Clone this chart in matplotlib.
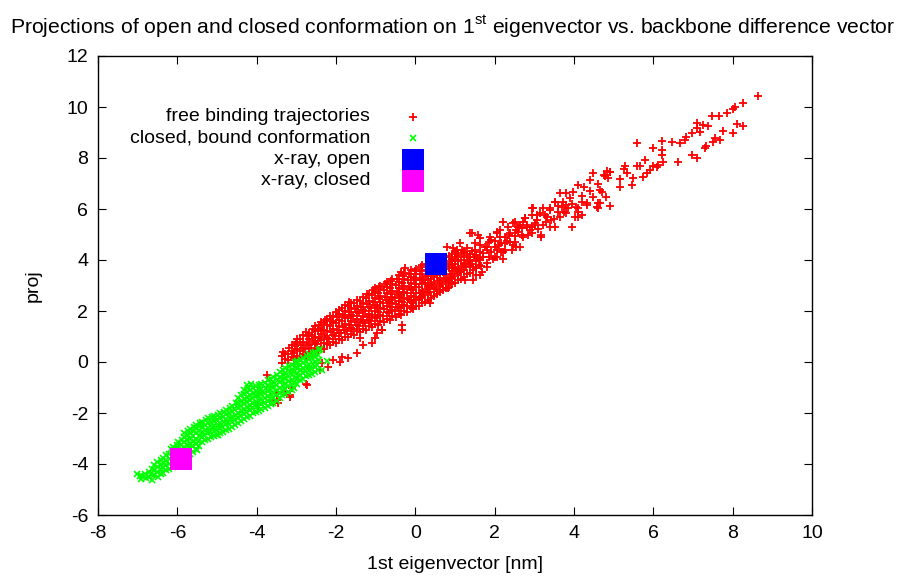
import matplotlib
matplotlib.use("Agg")
import matplotlib.pyplot as plt

plt.rcParams["font.family"] = ["Liberation Sans", "DejaVu Sans"]
plt.rcParams["mathtext.fontset"] = "custom"
plt.rcParams["mathtext.rm"] = "Liberation Sans"
plt.rcParams["axes.unicode_minus"] = False

# free binding trajectories: dense core of the band
red_core = [
    (-3.35, -0.02), (-3.35, 0.22), (-3.33, 0.41),
    (-3.2, 0.06), (-3.22, 0.31), (-3.18, 0.55),
    (-3.05, 0.12), (-3.07, 0.36), (-3.04, 0.61), (-3.02, 0.78),
    (-2.9, 0.16), (-2.92, 0.42), (-2.88, 0.66), (-2.91, 0.92),
    (-2.75, 0.24), (-2.77, 0.51), (-2.74, 0.76), (-2.72, 1.02), (-2.76, 1.19),
    (-2.6, 0.31), (-2.62, 0.56), (-2.58, 0.82), (-2.61, 1.06), (-2.57, 1.31),
    (-2.45, 0.44), (-2.47, 0.71), (-2.43, 0.96), (-2.46, 1.21), (-2.44, 1.47),
    (-2.3, 0.52), (-2.31, 0.76), (-2.28, 1.02), (-2.32, 1.26), (-2.29, 1.51), (-2.27, 1.66),
    (-2.15, 0.66), (-2.17, 0.91), (-2.13, 1.16), (-2.16, 1.42), (-2.12, 1.61), (-2.14, 1.82),
    (-2.0, 0.76), (-2.02, 1.02), (-1.98, 1.26), (-2.01, 1.52), (-1.97, 1.76), (-1.99, 1.96),
    (-1.85, 0.86), (-1.87, 1.12), (-1.83, 1.36), (-1.86, 1.61), (-1.82, 1.86), (-1.84, 2.12),
    (-1.7, 0.97), (-1.72, 1.21), (-1.68, 1.46), (-1.71, 1.72), (-1.67, 1.96), (-1.69, 2.21), (-1.66, 2.36),
    (-1.55, 1.06), (-1.57, 1.31), (-1.53, 1.56), (-1.56, 1.81), (-1.52, 2.06), (-1.54, 2.31),
    (-1.4, 1.16), (-1.42, 1.41), (-1.38, 1.66), (-1.41, 1.91), (-1.37, 2.16), (-1.39, 2.41),
    (-1.25, 1.26), (-1.27, 1.51), (-1.23, 1.76), (-1.26, 2.01), (-1.22, 2.26), (-1.24, 2.51), (-1.21, 2.66),
    (-1.1, 1.36), (-1.12, 1.61), (-1.08, 1.86), (-1.11, 2.11), (-1.07, 2.36), (-1.09, 2.61), (-1.06, 2.81),
    (-0.95, 1.46), (-0.97, 1.71), (-0.93, 1.96), (-0.96, 2.21), (-0.92, 2.46), (-0.94, 2.71), (-0.91, 2.96),
    (-0.8, 1.56), (-0.82, 1.81), (-0.78, 2.06), (-0.81, 2.31), (-0.77, 2.56), (-0.79, 2.81), (-0.76, 3.06),
    (-0.65, 1.66), (-0.67, 1.91), (-0.63, 2.16), (-0.66, 2.41), (-0.62, 2.66), (-0.64, 2.91), (-0.61, 3.16),
    (-0.5, 1.76), (-0.52, 2.01), (-0.48, 2.26), (-0.51, 2.51), (-0.47, 2.76), (-0.49, 3.01), (-0.46, 3.26),
    (-0.35, 1.86), (-0.37, 2.11), (-0.33, 2.36), (-0.36, 2.61), (-0.32, 2.86), (-0.34, 3.11), (-0.31, 3.36), (-0.36, 3.52),
    (-0.2, 1.96), (-0.22, 2.21), (-0.18, 2.46), (-0.21, 2.71), (-0.17, 2.96), (-0.19, 3.21), (-0.16, 3.46),
    (-0.05, 2.06), (-0.07, 2.31), (-0.03, 2.56), (-0.06, 2.81), (-0.02, 3.06), (-0.04, 3.31), (-0.01, 3.56),
    (0.1, 2.21), (0.08, 2.46), (0.12, 2.71), (0.09, 2.96), (0.13, 3.21), (0.11, 3.46), (0.14, 3.71),
    (0.25, 2.36), (0.23, 2.61), (0.27, 2.86), (0.24, 3.11), (0.28, 3.36), (0.26, 3.61), (0.29, 3.86),
    (0.4, 2.51), (0.38, 2.76), (0.42, 3.01), (0.39, 3.26), (0.43, 3.51),
    (0.55, 2.66), (0.53, 2.91), (0.57, 3.16), (0.54, 3.41),
    (0.7, 2.81), (0.68, 3.06), (0.72, 3.31), (0.69, 3.56), (0.73, 3.81), (0.71, 4.06),
    (0.85, 2.96), (0.83, 3.21), (0.87, 3.46), (0.84, 3.71), (0.88, 3.96), (0.86, 4.16),
    (1.0, 3.11), (0.98, 3.36), (1.02, 3.61), (0.99, 3.86), (1.03, 4.11), (1.01, 4.31),
    (1.15, 3.26), (1.13, 3.51), (1.17, 3.76), (1.14, 4.01), (1.18, 4.26),
    (1.3, 3.46), (1.28, 3.71), (1.32, 3.96), (1.29, 4.21),
    (1.45, 3.61), (1.43, 3.86), (1.47, 4.11), (1.44, 4.36),
    (1.6, 3.81), (1.58, 4.06), (1.62, 4.31),
]

# free binding trajectories: frames lying between the ones above
red_core_b = [
    (-3.28, 0.1), (-3.28, 0.33),
    (-3.12, 0.18), (-3.12, 0.45), (-3.12, 0.68),
    (-2.98, 0.25), (-2.98, 0.5), (-2.98, 0.75), (-2.98, 0.9),
    (-2.82, 0.3), (-2.82, 0.55), (-2.82, 0.8), (-2.82, 1.05),
    (-2.68, 0.4), (-2.68, 0.65), (-2.68, 0.9), (-2.68, 1.15),
    (-2.52, 0.5), (-2.52, 0.75), (-2.52, 1.0), (-2.52, 1.25), (-2.52, 1.4),
    (-2.38, 0.6), (-2.38, 0.85), (-2.38, 1.1), (-2.38, 1.35), (-2.38, 1.55),
    (-2.22, 0.7), (-2.22, 0.95), (-2.22, 1.2), (-2.22, 1.45), (-2.22, 1.7),
    (-2.08, 0.8), (-2.08, 1.05), (-2.08, 1.3), (-2.08, 1.55), (-2.08, 1.8),
    (-1.92, 0.9), (-1.92, 1.15), (-1.92, 1.4), (-1.92, 1.65), (-1.92, 1.9), (-1.92, 2.05),
    (-1.78, 1.0), (-1.78, 1.25), (-1.78, 1.5), (-1.78, 1.75), (-1.78, 2.0), (-1.78, 2.25),
    (-1.62, 1.1), (-1.62, 1.35), (-1.62, 1.6), (-1.62, 1.85), (-1.62, 2.1), (-1.62, 2.3),
    (-1.48, 1.2), (-1.48, 1.45), (-1.48, 1.7), (-1.48, 1.95), (-1.48, 2.2), (-1.48, 2.45),
    (-1.32, 1.3), (-1.32, 1.55), (-1.32, 1.8), (-1.32, 2.05), (-1.32, 2.3), (-1.32, 2.55),
    (-1.18, 1.4), (-1.18, 1.65), (-1.18, 1.9), (-1.18, 2.15), (-1.18, 2.4), (-1.18, 2.65),
    (-1.02, 1.5), (-1.02, 1.75), (-1.02, 2.0), (-1.02, 2.25), (-1.02, 2.5), (-1.02, 2.75), (-1.02, 2.9),
    (-0.88, 1.6), (-0.88, 1.85), (-0.88, 2.1), (-0.88, 2.35), (-0.88, 2.6), (-0.88, 2.85), (-0.88, 3.0),
    (-0.72, 1.7), (-0.72, 1.95), (-0.72, 2.2), (-0.72, 2.45), (-0.72, 2.7), (-0.72, 2.95), (-0.72, 3.15),
    (-0.58, 1.8), (-0.58, 2.05), (-0.58, 2.3), (-0.58, 2.55), (-0.58, 2.8), (-0.58, 3.05), (-0.58, 3.25),
    (-0.42, 1.9), (-0.42, 2.15), (-0.42, 2.4), (-0.42, 2.65), (-0.42, 2.9), (-0.42, 3.15), (-0.42, 3.4),
    (-0.28, 2.0), (-0.28, 2.25), (-0.28, 2.5), (-0.28, 2.75), (-0.28, 3.0), (-0.28, 3.25), (-0.28, 3.5),
    (-0.12, 2.1), (-0.12, 2.35), (-0.12, 2.6), (-0.12, 2.85), (-0.12, 3.1), (-0.12, 3.35), (-0.12, 3.6),
    (0.02, 2.2), (0.02, 2.45), (0.02, 2.7), (0.02, 2.95), (0.02, 3.2), (0.02, 3.45), (0.02, 3.65),
    (0.18, 2.3), (0.18, 2.55), (0.18, 2.8), (0.18, 3.05), (0.18, 3.3), (0.18, 3.55), (0.18, 3.8),
    (0.32, 2.45), (0.32, 2.7), (0.32, 2.95), (0.32, 3.2), (0.32, 3.45),
    (0.48, 2.6), (0.48, 2.85), (0.48, 3.1), (0.48, 3.35),
    (0.62, 2.75), (0.62, 3.0), (0.62, 3.25), (0.62, 3.5),
    (0.78, 2.9), (0.78, 3.15), (0.78, 3.4), (0.78, 3.65), (0.78, 3.9), (0.78, 4.1),
    (0.92, 3.05), (0.92, 3.3), (0.92, 3.55), (0.92, 3.8), (0.92, 4.05), (0.92, 4.25),
    (1.08, 3.2), (1.08, 3.45), (1.08, 3.7), (1.08, 3.95), (1.08, 4.2),
    (1.22, 3.35), (1.22, 3.6), (1.22, 3.85), (1.22, 4.1), (1.22, 4.3),
    (1.38, 3.5), (1.38, 3.75), (1.38, 4.0), (1.38, 4.25),
    (1.52, 3.7), (1.52, 3.95), (1.52, 4.2),
    (1.65, 3.75), (1.7, 4.1), (1.75, 4.5), (1.85, 4.7), (1.85, 4.1),
    (1.9, 4.3), (1.95, 4.05), (2.0, 4.75), (2.1, 4.6), (2.15, 4.3),
    (2.2, 4.05), (2.3, 4.75), (2.35, 5.0), (2.45, 4.6), (2.5, 4.95),
    (2.6, 5.1), (2.7, 5.25), (2.85, 5.0), (2.95, 5.3), (3.1, 5.2),
    (3.3, 5.5), (3.5, 5.6), (3.6, 6.1), (3.75, 5.9), (3.95, 6.2),
    (4.2, 6.5), (4.4, 6.7),
]

# free binding trajectories: scattered points around and beyond the core
red_spread = [
    (-1.69, 0.14), (-1.48, 0.34), (-1.90, 0.01), (-2.07, 0.08), (-2.36, -0.05),
    (-2.19, -0.18), (-2.40, -0.31), (-2.74, -0.90), (-3.12, -1.03), (-3.16, -1.36),
    (-3.50, -1.49), (-3.75, -0.51), (-1.31, 0.67), (-1.10, 0.73), (-1.02, 0.93),
    (-0.85, 1.25), (-0.34, 1.45), (-0.34, 1.25), (-1.40, 0.93), (-0.97, 1.12),
    (-1.86, 0.21), (-2.76, -0.86), (-3.12, -0.97), (-3.29, -1.16), (-3.16, -1.29),
    (-3.45, -1.62), (-3.58, -1.56), (-3.50, -1.23), (-3.96, -1.69),
    (-0.85, 1.25), (-0.64, 2.43), (-0.47, 2.17), (-0.39, 2.56), (-0.26, 3.67),
    (-0.13, 2.43), (-0.05, 2.17), (0.12, 2.56), (0.20, 3.22), (0.37, 3.02),
    (0.37, 2.30), (0.62, 2.82), (0.83, 2.89), (0.87, 3.15), (1.13, 3.54),
    (1.25, 3.22), (1.46, 3.22), (1.63, 3.41), (1.80, 3.74), (1.63, 4.00),
    (0.79, 4.52), (1.04, 4.39), (1.29, 4.46), (1.13, 4.65), (1.38, 5.05),
    (1.50, 4.65), (1.63, 4.59), (1.80, 4.39), (2.05, 4.13), (2.22, 4.33),
    (2.43, 4.39), (2.64, 4.52), (2.51, 4.72), (2.26, 4.65), (2.01, 4.52),
    (1.88, 4.92), (2.13, 4.92), (2.05, 5.11), (2.22, 5.50), (2.47, 5.44),
    (2.60, 5.31), (2.72, 4.92), (2.93, 5.05), (3.18, 4.98), (3.40, 5.31),
    (3.23, 5.37), (3.02, 5.44), (2.81, 5.37), (2.76, 5.63), (2.93, 6.03),
    (3.06, 5.76), (3.27, 5.76), (3.40, 6.03), (3.52, 6.29), (3.69, 6.09),
    (3.81, 6.16), (3.94, 5.31), (4.19, 5.76), (4.11, 6.03), (4.32, 6.16),
    (4.61, 6.03), (4.65, 6.22), (4.91, 7.46), (4.49, 7.42), (4.78, 7.29),
    (4.61, 7.00), (4.40, 7.14), (4.24, 6.88), (4.11, 6.94), (3.98, 6.68),
    (3.81, 6.62), (3.65, 6.62), (3.90, 6.42), (3.73, 6.29), (3.52, 6.29),
    (4.49, 6.48), (4.70, 6.68), (4.91, 6.12), (4.61, 6.22), (4.32, 6.22),
    (4.19, 6.29), (4.06, 6.09), (3.85, 6.03), (3.81, 5.83), (3.60, 5.89),
    (3.65, 5.70), (3.39, 5.96), (3.31, 5.70), (3.43, 5.57), (4.02, 5.70),
    (4.11, 5.89), (3.52, 5.31), (3.23, 6.03), (3.14, 5.83), (2.97, 6.03),
    (2.93, 5.76), (3.06, 5.57), (3.02, 5.37), (2.76, 5.64), (2.72, 5.50),
    (2.81, 5.31), (2.64, 5.37), (2.55, 5.18), (2.89, 5.18), (3.18, 4.89),
    (2.68, 4.98), (2.51, 5.50), (2.34, 5.31), (2.13, 5.18), (2.39, 5.05),
    (2.26, 4.91), (2.05, 5.05), (1.92, 4.78), (2.17, 4.65), (2.39, 4.72),
    (2.55, 4.52), (2.26, 4.39), (2.05, 4.39), (2.01, 4.13), (1.80, 4.52),
    (1.63, 4.85), (1.42, 5.05), (1.59, 4.98), (1.71, 4.26), (1.80, 3.87),
    (1.67, 3.54), (1.54, 3.41), (1.50, 4.39), (1.25, 3.87), (1.00, 4.00),
    (1.46, 3.74), (0.96, 3.67), (0.96, 4.46), (1.17, 4.39), (1.38, 4.13),
    (4.65, 6.75), (4.81, 6.48), (4.59, 6.07), (4.11, 5.70),
    (8.65, 10.43), (8.27, 10.15), (8.06, 10.01), (8.00, 9.91), (7.85, 9.75),
    (7.66, 9.65), (7.47, 9.65), (7.39, 9.25), (7.26, 9.29), (7.11, 9.36),
    (7.09, 9.16), (7.18, 9.03), (6.97, 8.97), (6.82, 8.84), (6.80, 8.71),
    (6.67, 8.58), (6.46, 8.64), (6.23, 8.67), (5.58, 8.58), (6.00, 8.38),
    (6.21, 8.31), (6.21, 8.12), (6.25, 7.86), (6.12, 7.73), (6.00, 7.69),
    (5.79, 7.92), (5.66, 7.69), (5.58, 7.69), (5.28, 7.69), (5.26, 7.56),
    (4.91, 7.46), (4.82, 7.50), (4.76, 7.33), (4.86, 7.20), (5.16, 7.16),
    (5.33, 7.40), (5.49, 7.20), (5.45, 6.94), (5.16, 6.85), (5.75, 7.27),
    (5.83, 7.42), (5.92, 7.53), (6.08, 7.63), (6.61, 7.86), (6.97, 8.12),
    (7.09, 7.99), (7.30, 8.38), (7.34, 8.47), (7.51, 8.64), (7.68, 8.71),
    (7.55, 8.77), (7.75, 9.07), (8.00, 8.99), (8.10, 9.32), (8.25, 9.25),
]

# closed, bound conformation
green_pts = [
    (-7.02, -4.38), (-6.92, -4.58), (-6.95, -4.46),
    (-6.8, -4.55), (-6.82, -4.38),
    (-6.65, -4.61), (-6.67, -4.41), (-6.63, -4.21),
    (-6.5, -4.52), (-6.52, -4.31), (-6.48, -4.11), (-6.51, -3.94),
    (-6.35, -4.36), (-6.37, -4.16), (-6.33, -3.96), (-6.36, -3.76),
    (-6.2, -4.21), (-6.22, -4.01), (-6.18, -3.81), (-6.21, -3.61), (-6.17, -3.41),
    (-6.05, -4.01), (-6.07, -3.81), (-6.03, -3.61), (-6.06, -3.41), (-6.02, -3.26),
    (-5.9, -3.86), (-5.92, -3.66), (-5.88, -3.46), (-5.91, -3.26), (-5.87, -3.06),
    (-5.75, -3.66), (-5.77, -3.46), (-5.73, -3.26), (-5.76, -3.06), (-5.72, -2.86), (-5.74, -2.71),
    (-5.6, -3.51), (-5.62, -3.31), (-5.58, -3.11), (-5.61, -2.91), (-5.57, -2.71), (-5.59, -2.56),
    (-5.45, -3.31), (-5.47, -3.11), (-5.43, -2.91), (-5.46, -2.71), (-5.42, -2.51), (-5.44, -2.41),
    (-5.3, -3.06), (-5.32, -2.86), (-5.28, -2.66), (-5.31, -2.46), (-5.27, -2.26),
    (-5.15, -2.96), (-5.17, -2.76), (-5.13, -2.56), (-5.16, -2.36), (-5.12, -2.16),
    (-5.0, -2.86), (-5.02, -2.66), (-4.98, -2.46), (-5.01, -2.26), (-4.97, -2.06),
    (-4.85, -2.76), (-4.87, -2.56), (-4.83, -2.36), (-4.86, -2.16), (-4.82, -1.96),
    (-4.7, -2.61), (-4.72, -2.41), (-4.68, -2.21), (-4.71, -2.01), (-4.67, -1.81),
    (-4.55, -2.46), (-4.57, -2.26), (-4.53, -2.06), (-4.56, -1.86), (-4.52, -1.61),
    (-4.4, -2.31), (-4.42, -2.11), (-4.38, -1.91), (-4.41, -1.71), (-4.37, -1.51), (-4.39, -1.31),
    (-4.25, -2.16), (-4.27, -1.96), (-4.23, -1.76), (-4.26, -1.56), (-4.22, -1.36), (-4.24, -1.16), (-4.21, -1.01),
    (-4.1, -2.01), (-4.12, -1.81), (-4.08, -1.61), (-4.11, -1.41), (-4.07, -1.21), (-4.09, -1.01),
    (-3.95, -1.91), (-3.97, -1.71), (-3.93, -1.51), (-3.96, -1.31), (-3.92, -1.11), (-3.94, -0.91),
    (-3.8, -1.81), (-3.82, -1.61), (-3.78, -1.41), (-3.81, -1.21), (-3.77, -1.01), (-3.79, -0.81),
    (-3.65, -1.66), (-3.67, -1.46), (-3.63, -1.26), (-3.66, -1.06), (-3.62, -0.86), (-3.64, -0.66),
    (-3.5, -1.51), (-3.52, -1.31), (-3.48, -1.11), (-3.51, -0.91), (-3.47, -0.71), (-3.49, -0.51),
    (-3.35, -1.31), (-3.37, -1.11), (-3.33, -0.91), (-3.36, -0.71), (-3.32, -0.51), (-3.34, -0.31),
    (-3.2, -1.16), (-3.22, -0.96), (-3.18, -0.76), (-3.21, -0.56), (-3.17, -0.36), (-3.19, -0.16),
    (-3.05, -1.01), (-3.07, -0.81), (-3.03, -0.61), (-3.06, -0.41), (-3.02, -0.21), (-3.04, -0.01),
    (-2.9, -0.71), (-2.92, -0.51), (-2.88, -0.31), (-2.91, -0.11), (-2.87, 0.09),
    (-2.75, -0.56), (-2.77, -0.36), (-2.73, -0.16), (-2.76, 0.04), (-2.72, 0.24),
    (-2.6, -0.46), (-2.62, -0.26), (-2.58, -0.06), (-2.61, 0.14), (-2.57, 0.34),
    (-2.45, -0.31), (-2.47, -0.11), (-2.43, 0.09), (-2.46, 0.29), (-2.42, 0.46),
    (-4.97, -2.86), (-5.51, -3.45), (-2.36, -0.31), (-2.22, 0.02), (-2.40, 0.50),
    (-4.25, -0.92), (-4.15, -0.86),
]

# closed, bound conformation: frames lying between the ones above
green_pts_b = [
    (-6.88, -4.48),
    (-6.72, -4.5), (-6.72, -4.3),
    (-6.58, -4.45), (-6.58, -4.25), (-6.58, -4.05),
    (-6.42, -4.4), (-6.42, -4.2), (-6.42, -4.0), (-6.42, -3.85),
    (-6.28, -4.25), (-6.28, -4.05), (-6.28, -3.85), (-6.28, -3.65),
    (-6.12, -4.1), (-6.12, -3.9), (-6.12, -3.7), (-6.12, -3.5), (-6.12, -3.35),
    (-5.98, -3.9), (-5.98, -3.7), (-5.98, -3.5), (-5.98, -3.3), (-5.98, -3.15),
    (-5.82, -3.75), (-5.82, -3.55), (-5.82, -3.35), (-5.82, -3.15), (-5.82, -2.95), (-5.82, -2.8),
    (-5.68, -3.6), (-5.68, -3.4), (-5.68, -3.2), (-5.68, -3.0), (-5.68, -2.8), (-5.68, -2.62),
    (-5.52, -3.4), (-5.52, -3.2), (-5.52, -3.0), (-5.52, -2.8), (-5.52, -2.6), (-5.52, -2.48),
    (-5.38, -3.15), (-5.38, -2.95), (-5.38, -2.75), (-5.38, -2.55), (-5.38, -2.35),
    (-5.22, -3.0), (-5.22, -2.8), (-5.22, -2.6), (-5.22, -2.4), (-5.22, -2.2),
    (-5.08, -2.9), (-5.08, -2.7), (-5.08, -2.5), (-5.08, -2.3), (-5.08, -2.1),
    (-4.92, -2.8), (-4.92, -2.6), (-4.92, -2.4), (-4.92, -2.2), (-4.92, -2.0),
    (-4.78, -2.65), (-4.78, -2.45), (-4.78, -2.25), (-4.78, -2.05), (-4.78, -1.88),
    (-4.62, -2.55), (-4.62, -2.35), (-4.62, -2.15), (-4.62, -1.95), (-4.62, -1.72),
    (-4.48, -2.4), (-4.48, -2.2), (-4.48, -2.0), (-4.48, -1.8), (-4.48, -1.6), (-4.48, -1.42),
    (-4.32, -2.25), (-4.32, -2.05), (-4.32, -1.85), (-4.32, -1.65), (-4.32, -1.45), (-4.32, -1.25), (-4.32, -1.08),
    (-4.18, -2.1), (-4.18, -1.9), (-4.18, -1.7), (-4.18, -1.5), (-4.18, -1.3), (-4.18, -1.1),
    (-4.02, -1.95), (-4.02, -1.75), (-4.02, -1.55), (-4.02, -1.35), (-4.02, -1.15), (-4.02, -0.95),
    (-3.88, -1.85), (-3.88, -1.65), (-3.88, -1.45), (-3.88, -1.25), (-3.88, -1.05), (-3.88, -0.85),
    (-3.72, -1.72), (-3.72, -1.52), (-3.72, -1.32), (-3.72, -1.12), (-3.72, -0.92), (-3.72, -0.72),
    (-3.58, -1.6), (-3.58, -1.4), (-3.58, -1.2), (-3.58, -1.0), (-3.58, -0.8), (-3.58, -0.6),
    (-3.42, -1.4), (-3.42, -1.2), (-3.42, -1.0), (-3.42, -0.8), (-3.42, -0.6), (-3.42, -0.4),
    (-3.28, -1.25), (-3.28, -1.05), (-3.28, -0.85), (-3.28, -0.65), (-3.28, -0.45), (-3.28, -0.25),
    (-3.12, -1.1), (-3.12, -0.9), (-3.12, -0.7), (-3.12, -0.5), (-3.12, -0.3), (-3.12, -0.1),
    (-2.98, -0.85), (-2.98, -0.65), (-2.98, -0.45), (-2.98, -0.25), (-2.98, -0.05), (-2.98, 0.05),
    (-2.82, -0.65), (-2.82, -0.45), (-2.82, -0.25), (-2.82, -0.05), (-2.82, 0.15),
    (-2.68, -0.5), (-2.68, -0.3), (-2.68, -0.1), (-2.68, 0.1), (-2.68, 0.3),
    (-2.52, -0.4), (-2.52, -0.2), (-2.52, 0.0), (-2.52, 0.2), (-2.52, 0.4),
]

# x-ray structures
xray_open = (0.53, 3.86)
xray_closed = (-5.92, -3.82)

labels = ["free binding trajectories", "closed, bound conformation",
          "x-ray, open", "x-ray, closed"]
x_ticks = [-8, -6, -4, -2, 0, 2, 4, 6, 8, 10]
y_ticks = [-6, -4, -2, 0, 2, 4, 6, 8, 10, 12]

red = red_core + red_core_b + red_spread
green = green_pts + green_pts_b

fig = plt.figure(figsize=(9.02, 5.79), dpi=100)
ax = fig.add_axes([98 / 902, 1 - 515 / 579, 714 / 902, 459 / 579])

plus_style = dict(linestyle="none", marker="+", ms=6.0, mew=1.3, color="#ff0000")
cross_style = dict(linestyle="none", marker="x", ms=4.6, mew=1.2, color="#00ff00")
square_ms = 16.5

ax.plot([p[0] for p in red], [p[1] for p in red], **plus_style)
ax.plot([p[0] for p in green], [p[1] for p in green], **cross_style)
ax.plot([xray_open[0]], [xray_open[1]], linestyle="none", marker="s",
        ms=square_ms, mew=0, color="#0000ff")
ax.plot([xray_closed[0]], [xray_closed[1]], linestyle="none", marker="s",
        ms=square_ms, mew=0, color="#ff00ff")

# key, drawn gnuplot style: right-aligned text with sample to its right
key_text_x = -1.14
key_mark_x = -0.06
key_rows = [9.61, 8.80, 7.94, 7.10]
ax.plot([key_mark_x], [key_rows[0]], **plus_style)
ax.plot([key_mark_x], [key_rows[1]], **cross_style)
ax.plot([key_mark_x], [key_rows[2]], marker="s", ms=square_ms, mew=0, color="#0000ff")
ax.plot([key_mark_x], [key_rows[3]], marker="s", ms=square_ms, mew=0, color="#ff00ff")
for lab, yr in zip(labels, key_rows):
    ax.text(key_text_x, yr, lab, ha="right", va="center", fontsize=14)

ax.set_xlim(-8, 10)
ax.set_ylim(-6, 12)
ax.set_xticks(x_ticks)
ax.set_yticks(y_ticks)
ax.tick_params(direction="in", length=6, width=0.8, top=True, right=True,
               labelsize=14, pad=7)
for s in ax.spines.values():
    s.set_linewidth(1.0)

ax.set_xlabel("1st eigenvector [nm]", fontsize=14, labelpad=10)
ax.set_ylabel("proj", fontsize=14, labelpad=18)
fig.text(0.502, 1 - 27 / 579,
         "Projections of open and closed conformation on 1$^{\\rm st}$ eigenvector vs. backbone difference vector",
         ha="center", va="center", fontsize=15.2)

fig.savefig("out.png", dpi=100)
